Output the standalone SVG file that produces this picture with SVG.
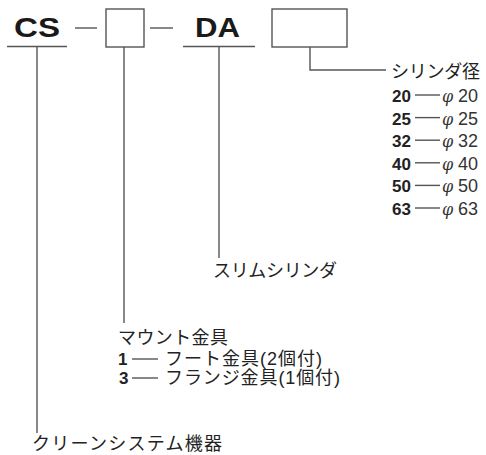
<svg xmlns="http://www.w3.org/2000/svg" width="486" height="455" viewBox="0 0 486 455">
<style>
.ln{stroke:#555;stroke-width:1.4;fill:none}
.box{stroke:#555;stroke-width:1.4;fill:#fff}
.big{font-family:"Liberation Sans",Arial,sans-serif;font-weight:bold;font-size:28px;fill:#1a1a1a}
.jp{font-family:"Liberation Sans","Noto Sans CJK JP",sans-serif;font-size:18px;fill:#222}
.num{font-family:"Liberation Sans",Arial,sans-serif;font-weight:bold;font-size:17px;fill:#222}
.val{font-family:"Liberation Sans",Arial,sans-serif;font-size:18px;fill:#333}
.phi{font-family:"DejaVu Serif",serif;font-style:italic;font-size:16px;fill:#333}
</style>
<rect width="486" height="455" fill="#fff"/>
<g id="connectors">
<line class="ln" x1="7" y1="46.5" x2="67" y2="46.5"/>
<line class="ln" x1="75" y1="28" x2="97" y2="28"/>
<line class="ln" x1="150" y1="28" x2="173" y2="28"/>
<line class="ln" x1="183" y1="46.5" x2="255" y2="46.5"/>
<line class="ln" x1="37" y1="46.5" x2="37" y2="433"/>
<line class="ln" x1="124" y1="47" x2="124" y2="323"/>
<line class="ln" x1="219" y1="46.5" x2="219" y2="258"/>
<polyline class="ln" points="310,47 310,70 386,70"/>
</g>
<g id="cs">
<text class="big" x="14" y="37" textLength="46" lengthAdjust="spacingAndGlyphs">CS</text>
</g>
<g id="mount-box">
<rect class="box" x="106" y="9" width="38" height="38"/>
</g>
<g id="da">
<text class="big" x="195" y="37" textLength="45" lengthAdjust="spacingAndGlyphs">DA</text>
</g>
<g id="bore-box">
<rect class="box" x="272" y="9" width="75" height="38"/>
</g>
<g id="bore-legend">
<text class="jp" x="391" y="78" textLength="89">シリンダ径</text>
<g id="bore-rows">
<text class="num" x="392" y="102">20</text><line class="ln" x1="415" y1="95" x2="440" y2="95"/><text class="phi" x="442" y="102">φ</text><text class="val" x="458" y="102">20</text>
<text class="num" x="392" y="124.6">25</text><line class="ln" x1="415" y1="117.6" x2="440" y2="117.6"/><text class="phi" x="442" y="124.6">φ</text><text class="val" x="458" y="124.6">25</text>
<text class="num" x="392" y="147.2">32</text><line class="ln" x1="415" y1="140.2" x2="440" y2="140.2"/><text class="phi" x="442" y="147.2">φ</text><text class="val" x="458" y="147.2">32</text>
<text class="num" x="392" y="169.8">40</text><line class="ln" x1="415" y1="162.8" x2="440" y2="162.8"/><text class="phi" x="442" y="169.8">φ</text><text class="val" x="458" y="169.8">40</text>
<text class="num" x="392" y="192.4">50</text><line class="ln" x1="415" y1="185.4" x2="440" y2="185.4"/><text class="phi" x="442" y="192.4">φ</text><text class="val" x="458" y="192.4">50</text>
<text class="num" x="392" y="215">63</text><line class="ln" x1="415" y1="208" x2="440" y2="208"/><text class="phi" x="442" y="215">φ</text><text class="val" x="458" y="215">63</text>
</g>
</g>
<g id="slim-cylinder">
<text class="jp" x="213" y="277" textLength="124">スリムシリンダ</text>
</g>
<g id="mount-legend">
<text class="jp" x="118" y="344" textLength="110">マウント金具</text>
<text class="num" x="118" y="365">1</text><line class="ln" x1="132" y1="359" x2="158" y2="359"/><text class="jp" x="165" y="365" textLength="157">フート金具(2個付)</text>
<text class="num" x="119" y="384">3</text><line class="ln" x1="132" y1="378" x2="158" y2="378"/><text class="jp" x="165" y="384" textLength="175">フランジ金具(1個付)</text>
</g>
<g id="clean-system">
<text class="jp" x="32" y="450" textLength="190">クリーンシステム機器</text>
</g>
</svg>
